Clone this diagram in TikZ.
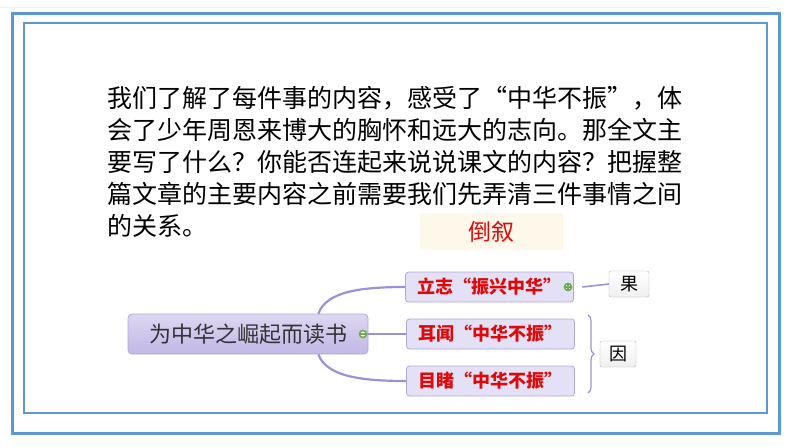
\documentclass[tikz,border=0pt]{standalone}
\usepackage{fontspec}
\setmainfont{Noto Sans CJK SC}
\usepackage{tikz}
\usetikzlibrary{
  calc,
  positioning,
  decorations.pathreplacing,
  shadows
}
\definecolor{frameblue}{RGB}{91,152,212}
\definecolor{mapline}{RGB}{157,144,214}
\definecolor{branchfill}{RGB}{228,225,247}
\definecolor{branchdraw}{RGB}{176,166,220}
\definecolor{topictop}{RGB}{221,215,242}
\definecolor{topicbot}{RGB}{192,183,229}
\definecolor{notered}{RGB}{222,10,10}
\definecolor{beige}{RGB}{253,248,234}
\definecolor{knobgreen}{RGB}{110,170,80}

\begin{document}
\begin{tikzpicture}[
      x=1pt,y=-1pt,
      topic/.style={
         rectangle,
         rounded corners=4pt,
         minimum width=240pt,
         minimum height=40pt,
         thick,
         draw=branchdraw,
         top color=topictop,
         bottom color=topicbot,
         text=black!80,
         font=\fontsize{22}{22}\selectfont,
         %text height=1.5ex,
      },
      branch/.style={
         rectangle,
         rounded corners=3pt,
         minimum width=168pt,
         minimum height=30pt,
         thick,
         draw=branchdraw,
         fill=branchfill,
         text=notered,
         font=\fontsize{18}{18}\selectfont\bfseries
      },
      tag/.style={
         rectangle,
         rounded corners=2pt,
         minimum height=26pt,
         draw=black!30,
         top color=white,bottom color=black!6,
         font=\fontsize{18}{18}\selectfont
      },
      knob/.style={circle, draw=knobgreen, fill=white, line width=1.6pt,
         inner sep=0pt, minimum size=7pt},
      map line/.style={draw=mapline, line width=2.2pt},
      curve up/.style={
         to path={.. controls ++(8,-22) and ++(-45,0) .. (\tikztotarget)}
      },
      curve down/.style={
         to path={.. controls ++(8,22) and ++(-45,0) .. (\tikztotarget)}
      },
    ]
    \useasboundingbox (0,0) rectangle (794,447);
    % frames
    \draw[black!6, line width=0.8pt] (0,7) -- (770,7);
    \draw[frameblue, line width=3pt] (12,13) rectangle (779,433);
    \draw[frameblue, line width=2pt] (24,23) rectangle (767,413);

    % paragraph
    \node (para) [anchor=north west, inner sep=0pt, align=left,
       font=\fontsize{25}{32}\selectfont] at (107,86) {%
       我们了解了每件事的内容，感受了“中华不振”，体\\
       会了少年周恩来博大的胸怀和远大的志向。那全文主\\
       要写了什么？你能否连起来说说课文的内容？把握整\\
       篇文章的主要内容之前需要我们先弄清三件事情之间\\
       的关系。};

    \node (daoxu) [fill=beige, minimum width=143pt, minimum height=37pt,
       text=notered, font=\fontsize{23}{23}\selectfont] at (491.5,231.5) {倒叙};

    % mind map
    \node (root) [topic] at (248,334) {为中华之崛起而读书};
    \node (b1) [branch] at (489.5,287) {立志“振兴中华”};
    \node (b2) [branch] at (490.5,334) {耳闻“中华不振”};
    \node (b3) [branch] at (490.5,381) {目睹“中华不振”};
    \node (m0) [knob] at (363,334) {};
    \node (p1) [knob] at (568,287) {};
    \draw[knobgreen, line width=1.4pt] ($(m0.west)+(1.5,0)$) -- ($(m0.east)+(-1.5,0)$);
    \draw[knobgreen, line width=1.2pt] ($(p1.west)+(1.5,0)$) -- ($(p1.east)+(-1.5,0)$)
       ($(p1.north)+(0,1.5)$) -- ($(p1.south)+(0,-1.5)$);

    \coordinate (r1) at ($(root.north east)+(-50,0)$);
    \coordinate (r3) at ($(root.south east)+(-50,0)$);
    \draw[map line] (r1) to[curve up] (b1.west);
    \draw[map line] (m0.east) -- (b2.west);
    \draw[map line] (r3) to[curve down] (b3.west);

    \node (guo) [tag, minimum width=40pt] at (629,284) {果};
    \coordinate (g0) at ($(p1.east)+(10,0)$);
    \draw[mapline, line width=1.6pt] (g0) -- (guo.west);

    \coordinate (br1) at (588,315);
    \coordinate (br2) at (588,393);
    \draw[mapline, line width=1.2pt, decorate,
       decoration={brace, amplitude=6pt}] (br1) -- (br2);
    \node (yin) [tag, minimum width=36pt] at (618,354) {因};
\end{tikzpicture}
\end{document}
